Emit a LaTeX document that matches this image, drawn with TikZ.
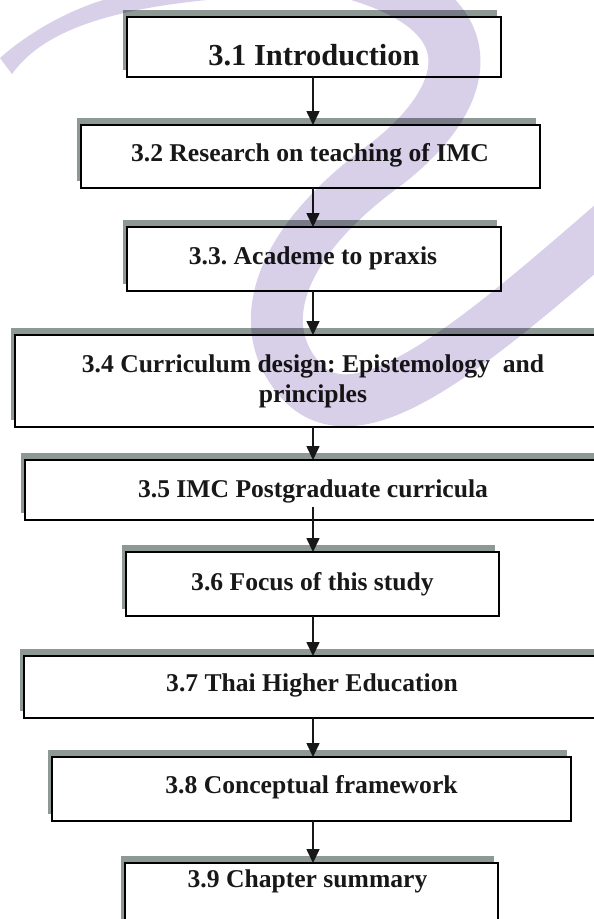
\documentclass[tikz,border=0pt]{standalone}
\usepackage{fontspec}
\setmainfont{Liberation Serif}
\usetikzlibrary{arrows.meta,shadows}
\definecolor{shade}{RGB}{142,152,148}
\definecolor{lav}{RGB}{216,207,233}
\definecolor{ink}{RGB}{24,24,24}
\frenchspacing
\begin{document}
\begin{tikzpicture}[x=1bp,y=-1bp,
  box/.style={draw=black, line width=2bp, fill=white, inner sep=0pt, outer sep=0pt,
    general shadow={fill=shade, shadow xshift=-4bp, shadow yshift=7bp}},
  heading/.style={font=\bfseries\fontsize{25.6bp}{30bp}\selectfont, inner sep=0pt, anchor=base, text=ink},
  arr/.style={draw=ink, line width=1.6bp, -{Triangle[length=14bp,width=13bp]}}]
\useasboundingbox (0,0) rectangle (594,919);
\clip (0,0) rectangle (594,919);

% chapter boxes
\node[box, minimum width=374bp, minimum height=60bp] (b1) at (314,47) {};
\node[box, minimum width=459bp, minimum height=63bp] (b2) at (310.5,156.5) {};
\node[box, minimum width=374bp, minimum height=64bp] (b3) at (314,259) {};
\node[box, minimum width=595bp, minimum height=92bp] (b4) at (312.5,381) {};
\node[box, minimum width=585bp, minimum height=60bp] (b5) at (317.5,490) {};
\node[box, minimum width=373bp, minimum height=64bp] (b6) at (312.5,584) {};
\node[box, minimum width=586bp, minimum height=62bp] (b7) at (317,687) {};
\node[box, minimum width=519bp, minimum height=64bp] (b8) at (311.5,789) {};
\node[box, minimum width=373bp, minimum height=77bp] (b9) at (311.5,901.5) {};

% titles
\node[heading, font=\bfseries\fontsize{30.5bp}{34bp}\selectfont] (t1) at (314,65) {3.1 Introduction};
\node[heading] (t2) at (310,161) {3.2 Research on teaching of IMC};
\node[heading] (t3) at (313,264) {3.3. Academe to praxis};
\node[heading, align=center] (t4) at (313,402) {3.4 Curriculum design: Epistemology\ \ and\\principles};
\node[heading] (t5) at (313,497) {3.5 IMC Postgraduate curricula};
\node[heading] (t6) at (312.5,590) {3.6 Focus of this study};
\node[heading] (t7) at (312,691) {3.7 Thai Higher Education};
\node[heading] (t8) at (311.5,793) {3.8 Conceptual framework};
\node[heading] (t9) at (307.5,887) {3.9 Chapter summary};

% connectors
\coordinate (ax) at (313,0);
\draw[arr] (b1.south -| ax) -- (b2.north -| ax);
\draw[arr] (b2.south -| ax) -- (b3.north -| ax);
\draw[arr] (b3.south -| ax) -- (b4.north -| ax);
\draw[arr] (b4.south -| ax) -- (b5.north -| ax);
\draw[arr] ([yshift=13bp]b5.south -| ax) -- (b6.north -| ax);
\draw[arr] (b6.south -| ax) -- (b7.north -| ax);
\draw[arr] (b7.south -| ax) -- (b8.north -| ax);
\draw[arr] (b8.south -| ax) -- (b9.north -| ax);

% lavender swoosh printed over the page
\begin{scope}[blend mode=multiply]
  \fill[lav] (12,74) .. controls (40,35) and (100,8) .. (230,-2)
    -- (110,-2) .. controls (60,12) and (20,40) .. (0,58) -- cycle;
  \draw[lav, line width=52bp]
    (340,-30) .. controls (500,10) and (470,100) .. (385,165)
    .. controls (275,245) and (250,330) .. (305,385)
    .. controls (365,440) and (480,340) .. (640,200);
\end{scope}
\end{tikzpicture}
\end{document}
